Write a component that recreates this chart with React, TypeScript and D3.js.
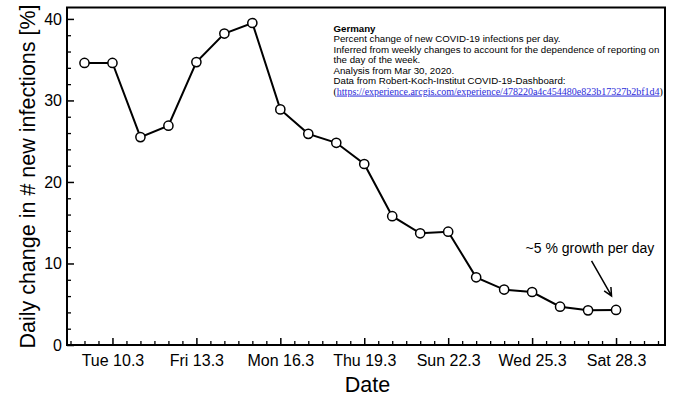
import React, {useEffect, useRef} from "react";
import * as d3 from "d3";

// Day of March for each observation
const days = [9, 10, 11, 12, 13, 14, 15, 16, 17, 18, 19, 20, 21, 22, 23, 24, 25, 26, 27, 28];
// Daily change in # new infections [%]
const values = [34.6, 34.6, 25.5, 26.9, 34.7, 38.2, 39.5, 28.9, 25.9, 24.8, 22.2, 15.8, 13.7, 13.9, 8.3, 6.8, 6.5, 4.7, 4.25, 4.3];

const xTickDays = [10, 13, 16, 19, 22, 25, 28];
const xTickLabels = ["Tue 10.3", "Fri 13.3", "Mon 16.3", "Thu 19.3", "Sun 22.3", "Wed 25.3", "Sat 28.3"];
const yTicks = [0, 10, 20, 30, 40];

const noteLines = [
	"Percent change of new COVID-19 infections per day.",
	"Inferred from weekly changes to account for the dependence of reporting on",
	"the day of the week.",
	"Analysis from Mar 30, 2020.",
	"Data from Robert-Koch-Institut COVID-19-Dashboard:",
];
const noteUrl = "https://experience.arcgis.com/experience/478220a4c454480e823b17327b2bf1d4";

const W = 680;
const H = 400;
const FONT = "'Liberation Sans', Helvetica, Arial, sans-serif";

const App: React.FC = () => {
	const svgRef = useRef<SVGSVGElement>(null);

	useEffect(() => {
		const svg = d3.select(svgRef.current);
		svg.selectAll("*").remove();

		const margin = {top: 7.5, right: 15, bottom: 55, left: 67};
		const x = d3.scaleLinear().domain([8.375, 29.75]).range([margin.left, W - margin.right]);
		const y = d3.scaleLinear().domain([0, 41.4]).range([H - margin.bottom, margin.top]);
		const bottom = H - margin.bottom;

		// Frame
		svg.append("rect")
			.attr("x", margin.left)
			.attr("y", margin.top)
			.attr("width", W - margin.right - margin.left)
			.attr("height", bottom - margin.top)
			.attr("fill", "none")
			.attr("stroke", "#000")
			.attr("stroke-width", 2);

		// X axis, major + minor ticks pointing inward
		const xMinor = d3.range(8.5, 29.75, 0.5).filter((d) => !xTickDays.includes(d));
		svg.append("g")
			.attr("transform", `translate(0,${bottom})`)
			.call(d3.axisBottom(x).tickValues(xMinor).tickSize(-4).tickFormat(() => ""))
			.call((g) => g.select(".domain").remove())
			.call((g) => g.selectAll("line").attr("stroke-width", 1.3));

		const xAxis = svg.append("g")
			.attr("transform", `translate(0,${bottom})`)
			.call(
				d3.axisBottom(x)
					.tickValues(xTickDays)
					.tickSize(-7)
					.tickPadding(9.5)
					.tickFormat((_, i) => xTickLabels[i])
			);
		xAxis.select(".domain").remove();
		xAxis.selectAll("line").attr("stroke-width", 1.5);
		xAxis.selectAll("text").style("font-size", "16px").style("font-family", FONT).attr("fill", "#000");

		// Y axis
		const yMinor = d3.range(2, 41, 2).filter((d) => d % 10 !== 0);
		svg.append("g")
			.attr("transform", `translate(${margin.left},0)`)
			.call(d3.axisLeft(y).tickValues(yMinor).tickSize(-4).tickFormat(() => ""))
			.call((g) => g.select(".domain").remove())
			.call((g) => g.selectAll("line").attr("stroke-width", 1.3));

		const yAxis = svg.append("g")
			.attr("transform", `translate(${margin.left},0)`)
			.call(d3.axisLeft(y).tickValues(yTicks).tickSize(-7).tickPadding(5));
		yAxis.select(".domain").remove();
		yAxis.selectAll("line").attr("stroke-width", 1.5);
		yAxis.selectAll("text").style("font-size", "16px").style("font-family", FONT).attr("fill", "#000");

		// Axis titles
		svg.append("text")
			.attr("transform", `translate(35,176.5) rotate(-90)`)
			.attr("text-anchor", "middle")
			.style("font-family", FONT)
			.style("font-size", "21.5px")
			.text("Daily change in # new infections [%]");

		svg.append("text")
			.attr("x", 367.5)
			.attr("y", 392)
			.attr("text-anchor", "middle")
			.style("font-family", FONT)
			.style("font-size", "21.5px")
			.text("Date");

		// Series
		const pts = days.map((d, i) => [d, values[i]] as [number, number]);
		svg.append("path")
			.datum(pts)
			.attr("fill", "none")
			.attr("stroke", "#000")
			.attr("stroke-width", 2)
			.attr("d", d3.line<[number, number]>().x((d) => x(d[0])).y((d) => y(d[1])));

		svg.append("g")
			.selectAll("circle")
			.data(pts)
			.join("circle")
			.attr("cx", (d) => x(d[0]))
			.attr("cy", (d) => y(d[1]))
			.attr("r", 4.6)
			.attr("fill", "#fff")
			.attr("stroke", "#000")
			.attr("stroke-width", 1.5);

		// Annotation anchored on the last point
		const last = pts[pts.length - 1];
		const lx = x(last[0]);
		const ly = y(last[1]);
		const tip: [number, number] = [lx - 4.5, ly - 14];
		const start: [number, number] = [lx - 24.5, ly - 49];
		const dx = tip[0] - start[0];
		const dy = tip[1] - start[1];
		const len = Math.hypot(dx, dy);
		const ux = dx / len;
		const uy = dy / len;
		const head = 9;
		const ang = Math.PI / 7;
		const arm = (s: number): [number, number] => [
			tip[0] - head * (ux * Math.cos(ang) - s * uy * Math.sin(ang)),
			tip[1] - head * (uy * Math.cos(ang) + s * ux * Math.sin(ang)),
		];
		const a1 = arm(1);
		const a2 = arm(-1);
		svg.append("path")
			.attr("d", `M${start[0]},${start[1]}L${tip[0]},${tip[1]}M${a1[0]},${a1[1]}L${tip[0]},${tip[1]}L${a2[0]},${a2[1]}`)
			.attr("fill", "none")
			.attr("stroke", "#000")
			.attr("stroke-width", 1.5);

		svg.append("text")
			.attr("x", lx - 90.5)
			.attr("y", ly - 57)
			.style("font-family", FONT)
			.style("font-size", "14px")
			.text("~5 % growth per day");

		// Info note
		const note = svg.append("g").style("font-family", FONT).style("font-size", "9.7px");
		note.append("text").attr("x", 333.5).attr("y", 31.5).style("font-weight", "bold").text("Germany");
		noteLines.forEach((t, i) => {
			note.append("text").attr("x", 333.5).attr("y", 42.3 + i * 10.45).text(t);
		});
		const urlLine = note.append("text")
			.attr("x", 333.5)
			.attr("y", 42.3 + noteLines.length * 10.45)
			.style("font-family", "'Liberation Serif', 'Times New Roman', serif")
			.style("font-size", "10px");
		urlLine.append("tspan").text("(");
		urlLine.append("tspan").attr("fill", "#2b2bd9").attr("text-decoration", "underline").text(noteUrl);
		urlLine.append("tspan").text(")");
	}, []);

	return (
		<svg
			ref={svgRef}
			width={W}
			height={H}
			style={{position: "absolute", left: 0, top: 0, background: "#fff"}}
		/>
	);
};

export default App;
